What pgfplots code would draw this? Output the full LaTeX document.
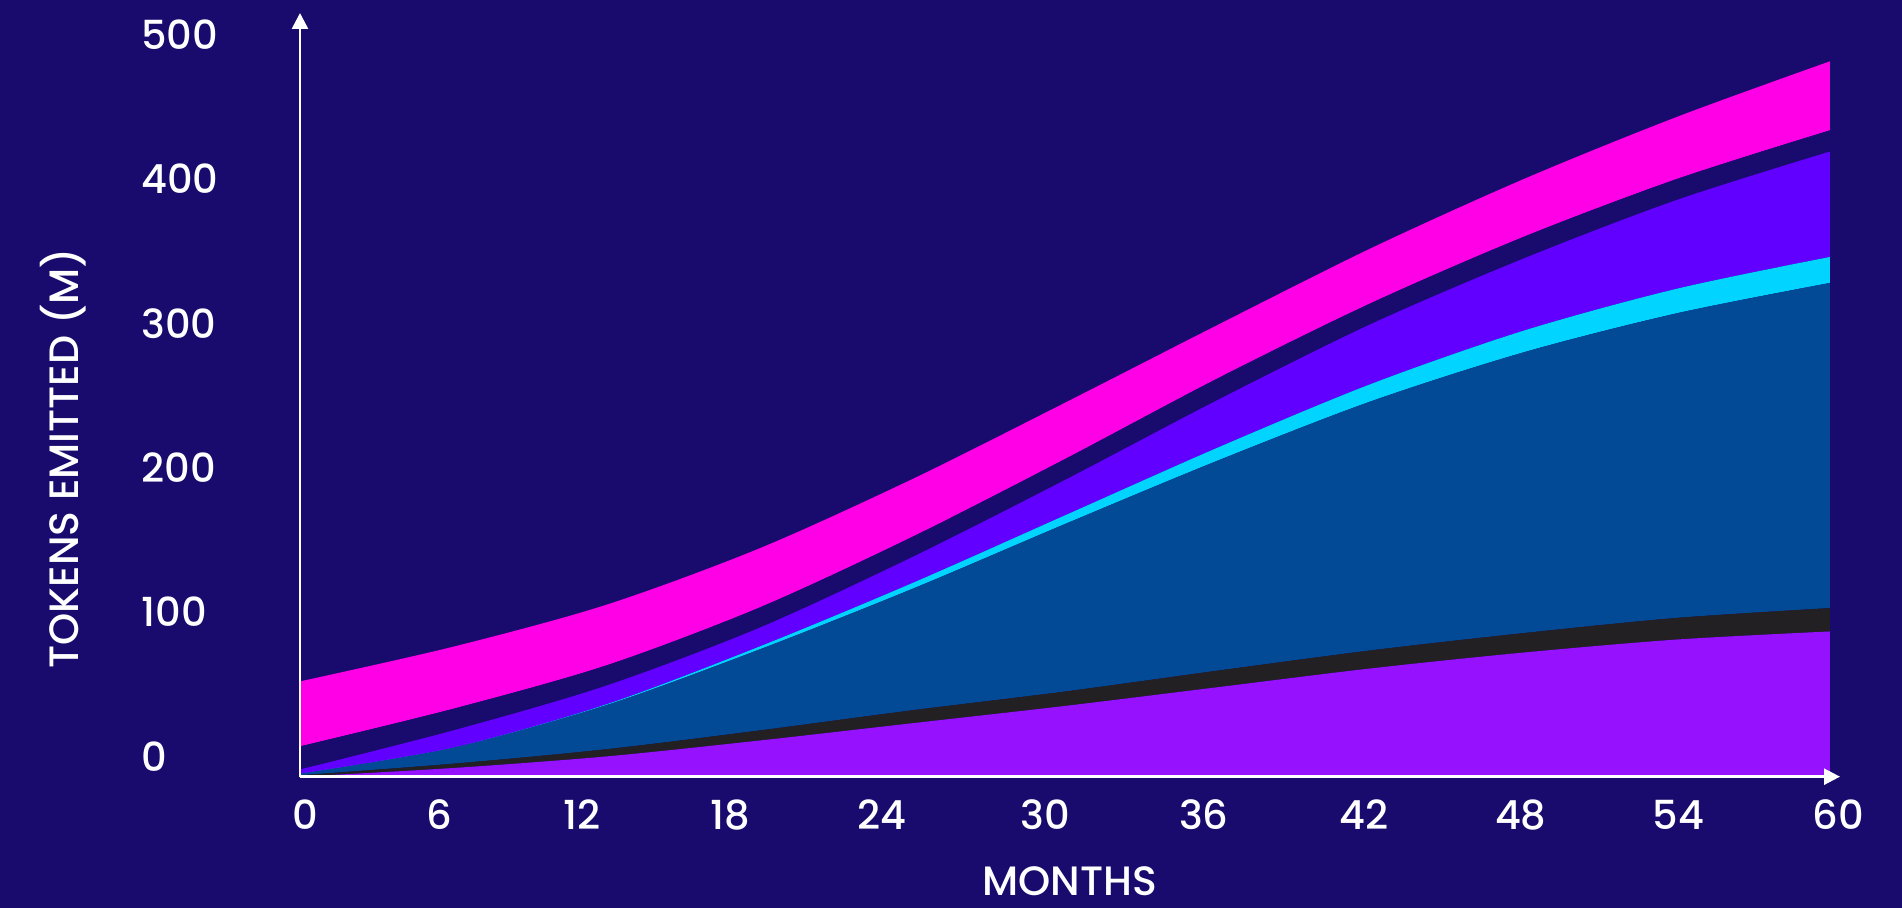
\documentclass[border=0pt]{standalone}
\usepackage{fontspec}
\setmainfont{Poppins}[UprightFont=* Medium]
\usepackage{pgfplots}
\pgfplotsset{compat=1.18}
\usepackage{pgfplotstable}
\usetikzlibrary{arrows.meta}

\definecolor{bgc}{RGB}{25,10,110}
\definecolor{cmag}{RGB}{255,0,230}
\definecolor{cvio}{RGB}{98,0,255}
\definecolor{ccya}{RGB}{0,212,255}
\definecolor{cblu}{RGB}{2,74,150}
\definecolor{cblk}{RGB}{35,32,36}
\definecolor{cpur}{RGB}{150,18,254}

% layer thicknesses (M tokens); base = position of the axis line
\pgfplotstableread{
m  base purple black blue  cyan violet gap  magenta
0  -14  0      1     1     0    3      16   45
6  -14  6      3     11    0    12     15   43
12 -14  14     5     30.5  0.5  13     14   42
18 -14  25     7     56    2    13     14   41
24 -14  37     9     84    4    18     14   40
30 -14  49     10    116   6    24.5   14.5 39
36 -14  62     11.5  145.5 9    33     15   37
42 -14  75     12.5  172.5 12   41.5   14.5 38
48 -14  86     13.5  194.5 15   50     15   40
54 -14  95     15    211   17   61.5   14.5 43
60 -14  100.6  16.2  225.2 18   73     14.7 47.8
}\tokens

\begin{document}
\begin{tikzpicture}
\fill[bgc] (-150pt,-65.65pt) rectangle (801pt,388.35pt);
\begin{axis}[
  at={(0,0)}, anchor=south west,
  scale only axis, width=770pt, height=381.85pt,
  xmin=0, xmax=60.4, ymin=-14, ymax=515,
  axis lines=left,
  axis line style={white, line width=1.3pt, -{Triangle[length=8pt,width=8pt]}},
  axis on top,
  major tick length=0pt,
  stack plots=y,
  xtick={0.22,5.45,11.05,16.89,22.84,29.22,35.45,41.72,47.88,54.07,60.34},
  xticklabels={0,6,12,18,24,30,36,42,48,54,60},
  ytick={0,100,200,300,400,500},
  /pgf/number format/assume math mode=true,
  tick label style={font=\fontsize{20}{23}\selectfont, text=white},
  xticklabel style={anchor=north, inner sep=0pt, yshift=-11.5pt},
  yticklabel style={anchor=west, inner sep=0pt, xshift=-79.5pt},
  label style={font=\fontsize{20.5}{24}\selectfont, text=white},
  xlabel={MONTHS},
  ylabel={TOKENS EMITTED (M)},
  xlabel style={at={(axis description cs:0.5,-0.1375)}, anchor=center},
  ylabel style={at={(axis description cs:-0.1539,0.4167)}, anchor=center},
]
\addplot[draw=none, forget plot] table[x=m,y=base] {\tokens};
\addplot[fill=cpur, draw=none, smooth] table[x=m,y=purple] {\tokens} \closedcycle;
\addplot[fill=cblk, draw=none, smooth] table[x=m,y=black] {\tokens} \closedcycle;
\addplot[fill=cblu, draw=none, smooth] table[x=m,y=blue] {\tokens} \closedcycle;
\addplot[fill=ccya, draw=none, smooth] table[x=m,y=cyan] {\tokens} \closedcycle;
\addplot[fill=cvio, draw=none, smooth] table[x=m,y=violet] {\tokens} \closedcycle;
\addplot[fill=bgc, draw=none, smooth] table[x=m,y=gap] {\tokens} \closedcycle;
\addplot[fill=cmag, draw=none, smooth] table[x=m,y=magenta] {\tokens} \closedcycle;
\end{axis}
\end{tikzpicture}
\end{document}
